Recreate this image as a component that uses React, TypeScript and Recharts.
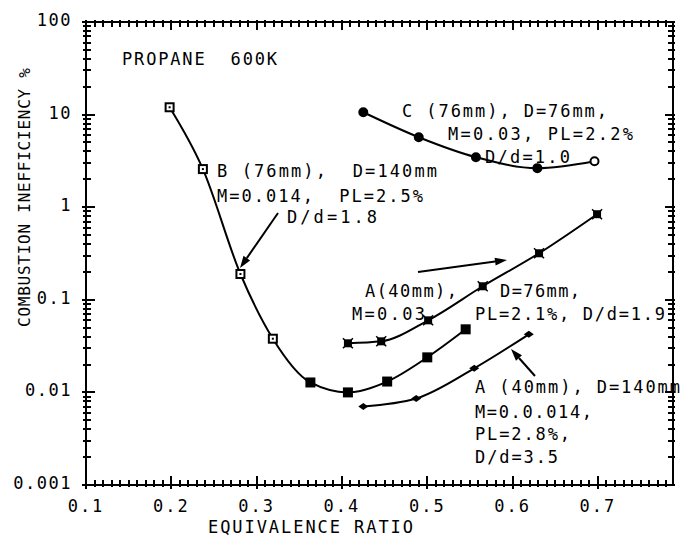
import { LineChart, Line, XAxis, YAxis, ReferenceLine } from "recharts";

// equivalence ratio / combustion inefficiency (%) per burner
const bX = [0.198, 0.237, 0.281, 0.319, 0.363, 0.407, 0.453, 0.5, 0.545];
const bY = [12, 2.58, 0.19, 0.038, 0.0128, 0.01, 0.0131, 0.0239, 0.048];
const cX = [0.425, 0.49, 0.557, 0.629, 0.696];
const cY = [10.6, 5.7, 3.47, 2.64, 3.14];
const a76X = [0.407, 0.446, 0.501, 0.565, 0.631, 0.699];
const a76Y = [0.0339, 0.0356, 0.06, 0.14, 0.318, 0.84];
const a140X = [0.425, 0.487, 0.555, 0.619];
const a140Y = [0.00706, 0.0086, 0.0182, 0.0424];

const xMajor = [0.1, 0.2, 0.3, 0.4, 0.5, 0.6, 0.7];
const xLabels = ["0.1", "0.2", "0.3", "0.4", "0.5", "0.6", "0.7"];
const yMajor = [0.001, 0.01, 0.1, 1, 10, 100];
const yLabels = ["0.001", "0.01", "0.1", "1", "10", "100"];
const xDomain = [0.1, 0.788];
const yDomain = [0.001, 100];

const FONT = "'DejaVu Sans Mono', monospace";
const W = 680;
const H = 538;
const M = { top: 22, right: 7, bottom: 0, left: 0 };
const Y_AXIS_W = 86;
const X_AXIS_H = 53;
const PL = M.left + Y_AXIS_W;
const PR = W - M.right;
const PT = M.top;
const PB = H - M.bottom - X_AXIS_H;

const toPts = (xs: number[], ys: number[]) => xs.map((x, i) => ({ x, y: ys[i] }));
const bData = toPts(bX, bY);
const cData = toPts(cX, cY);
const a76Data = toPts(a76X, a76Y);
const a140Data = toPts(a140X, a140Y);

// minor ticks: every 0.01 on x, 1..9 per decade on y
const xMinor: number[] = [];
for (let i = 0; i <= 68; i++) xMinor.push(Math.round((0.1 + i * 0.01) * 1000) / 1000);
const yMinor: number[] = [];
yMajor.slice(0, -1).forEach((d) => {
  for (let k = 1; k <= 9; k++) yMinor.push(+(d * k).toPrecision(3));
});
yMinor.push(100);

const isXMajor = (v: number) => xMajor.some((m) => Math.abs(m - v) < 1e-6);
const isYMajor = (v: number) => yMajor.some((m) => Math.abs(m - v) / m < 1e-6);

// same mapping as the chart's axes, used for the frame tick marks
const sx = (v: number) => PL + ((v - xDomain[0]) / (xDomain[1] - xDomain[0])) * (PR - PL);
const lmin = Math.log10(yDomain[0]);
const lmax = Math.log10(yDomain[1]);
const sy = (v: number) => PB - ((Math.log10(v) - lmin) / (lmax - lmin)) * (PB - PT);

const FrameTicks = () => (
  <g>
    {xMinor.map((v) => {
      const x = Math.round(sx(v));
      const maj = isXMajor(v);
      return (
        <g key={`x${v}`}>
          <line x1={x} x2={x} y1={PB + (maj ? 4 : 2)} y2={PB - (maj ? 9 : 5)} stroke="#000" strokeWidth={2} />
          <line x1={x} x2={x} y1={PT - 2} y2={PT + (maj ? 8 : 5)} stroke="#000" strokeWidth={2} />
        </g>
      );
    })}
    {yMinor.map((v) => {
      const y = Math.round(sy(v));
      const maj = isYMajor(v);
      return (
        <g key={`y${v}`}>
          <line x1={PL - (maj ? 4 : 3)} x2={PL + (maj ? 9 : 5)} y1={y} y2={y} stroke="#000" strokeWidth={2} />
          <line x1={PR + 2} x2={PR - (maj ? 8 : 5)} y1={y} y2={y} stroke="#000" strokeWidth={2} />
        </g>
      );
    })}
  </g>
);

const BottomLabel = (props: any) => {
  const { x, y, index } = props;
  return (
    <text x={x} y={y + 27} textAnchor="middle" fontFamily={FONT} fontSize={17} letterSpacing={2} fill="#000">
      {xLabels[index]}
    </text>
  );
};

const LeftLabel = (props: any) => {
  const { x, y, index } = props;
  return (
    <text x={x - 14} y={y + 4} textAnchor="end" fontFamily={FONT} fontSize={17} letterSpacing={1.5} fill="#000">
      {yLabels[index]}
    </text>
  );
};

const SquareDot = (props: any) => {
  const { cx, cy, index } = props;
  const open = index < 4;
  return (
    <g key={`b${index}`}>
      <rect x={cx - 4} y={cy - 4} width={8} height={8} fill={open ? "#fff" : "#000"} stroke="#000" strokeWidth={2} />
      {open && <rect x={cx - 1} y={cy - 1} width={2} height={2} fill="#000" />}
    </g>
  );
};

const CircleDot = (props: any) => {
  const { cx, cy, index } = props;
  const open = index === 4;
  return <circle key={`c${index}`} cx={cx} cy={cy} r={4} fill={open ? "#fff" : "#000"} stroke="#000" strokeWidth={2} />;
};

const StarDot = (props: any) => {
  const { cx, cy, index } = props;
  return (
    <g key={`a${index}`}>
      <rect x={cx - 4} y={cy - 4} width={8} height={8} fill="#000" />
      <line x1={cx - 5} y1={cy - 5} x2={cx + 5} y2={cy + 5} stroke="#000" strokeWidth={1.5} />
      <line x1={cx - 5} y1={cy + 5} x2={cx + 5} y2={cy - 5} stroke="#000" strokeWidth={1.5} />
    </g>
  );
};

const DiamondDot = (props: any) => {
  const { cx, cy, index } = props;
  return (
    <polygon
      key={`d${index}`}
      points={`${cx - 5},${cy} ${cx},${cy - 3.5} ${cx + 5},${cy} ${cx},${cy + 3.5}`}
      fill="#000"
    />
  );
};

const notes = [
  { t: "PROPANE  600K", x: 122, y: 65, w: 155 },
  { t: "B (76mm),  D=140mm", x: 217, y: 177, w: 220 },
  { t: "M=0.014,  PL=2.5%", x: 217, y: 202, w: 206 },
  { t: "D/d=1.8", x: 287, y: 223, w: 90 },
  { t: "C (76mm), D=76mm,", x: 402, y: 117, w: 205 },
  { t: "M=0.03, PL=2.2%", x: 448, y: 140, w: 185 },
  { t: "D/d=1.0", x: 485, y: 163, w: 85 },
  { t: "A(40mm),", x: 365, y: 297, w: 92 },
  { t: "D=76mm,", x: 500, y: 297, w: 80 },
  { t: "M=0.03", x: 352, y: 320, w: 73 },
  { t: "PL=2.1%, D/d=1.9", x: 475, y: 320, w: 190 },
  { t: "A (40mm), D=140mm", x: 475, y: 393, w: 205 },
  { t: "M=0.0.014,", x: 475, y: 418, w: 117 },
  { t: "PL=2.8%,", x: 475, y: 440, w: 95 },
  { t: "D/d=3.5", x: 475, y: 463, w: 83 },
];

const arrows = [
  { x1: 278, y1: 213, x2: 240, y2: 268 },
  { x1: 418, y1: 272, x2: 507, y2: 260 },
  { x1: 535, y1: 376, x2: 511, y2: 349 },
];

const Arrow = ({ x1, y1, x2, y2 }: any) => {
  const a = Math.atan2(y2 - y1, x2 - x1);
  const L = 12;
  const hw = 4;
  const bx = x2 - L * Math.cos(a);
  const by = y2 - L * Math.sin(a);
  const px = -Math.sin(a) * hw;
  const py = Math.cos(a) * hw;
  return (
    <g>
      <line x1={x1} y1={y1} x2={bx} y2={by} stroke="#000" strokeWidth={2} />
      <polygon points={`${x2},${y2} ${bx + px},${by + py} ${bx - px},${by - py}`} fill="#000" />
    </g>
  );
};

export default function App() {
  return (
    <div style={{ position: "absolute", left: 0, top: 0, width: W, height: H, background: "#fff" }}>
      <LineChart width={W} height={H} margin={M}>
        <XAxis
          dataKey="x"
          type="number"
          domain={xDomain}
          ticks={xMajor}
          interval={0}
          height={X_AXIS_H}
          tickSize={0}
          tickMargin={0}
          tickLine={false}
          tick={<BottomLabel />}
          stroke="#000"
        />
        <YAxis
          type="number"
          scale="log"
          domain={yDomain}
          ticks={yMajor}
          interval={0}
          width={Y_AXIS_W}
          tickSize={0}
          tickMargin={0}
          tickLine={false}
          tick={<LeftLabel />}
          stroke="#000"
        />
        <ReferenceLine y={yDomain[0]} stroke="#000" strokeWidth={2} />
        <ReferenceLine y={yDomain[1]} stroke="#000" strokeWidth={2} />
        <ReferenceLine x={xDomain[0]} stroke="#000" strokeWidth={2} />
        <ReferenceLine x={xDomain[1]} stroke="#000" strokeWidth={2} />
        <Line data={bData} dataKey="y" type="monotone" stroke="#000" strokeWidth={2} dot={<SquareDot />} isAnimationActive={false} />
        <Line data={cData} dataKey="y" type="monotone" stroke="#000" strokeWidth={2} dot={<CircleDot />} isAnimationActive={false} />
        <Line data={a76Data} dataKey="y" type="monotone" stroke="#000" strokeWidth={2} dot={<StarDot />} isAnimationActive={false} />
        <Line data={a140Data} dataKey="y" type="monotone" stroke="#000" strokeWidth={2} dot={<DiamondDot />} isAnimationActive={false} />
      </LineChart>
      <svg width={W} height={H} style={{ position: "absolute", left: 0, top: 0, pointerEvents: "none" }}>
        <FrameTicks />
        {notes.map((n) => (
          <text
            key={n.t + n.y}
            x={n.x}
            y={n.y}
            fontFamily={FONT}
            fontSize={17}
            textLength={n.w}
            lengthAdjust="spacing"
            fill="#000"
            style={{ whiteSpace: "pre" }}
          >
            {n.t}
          </text>
        ))}
        {arrows.map((a, i) => (
          <Arrow key={i} {...a} />
        ))}
        <text x={208} y={533} fontFamily={FONT} fontSize={17} textLength={205} lengthAdjust="spacing" fill="#000">
          EQUIVALENCE RATIO
        </text>
        <text
          x={0}
          y={0}
          transform="translate(30,197.5) rotate(-90)"
          textAnchor="middle"
          fontFamily={FONT}
          fontSize={16}
          textLength={259}
          lengthAdjust="spacing"
          fill="#000"
        >
          COMBUSTION INEFFICIENCY %
        </text>
      </svg>
    </div>
  );
}
